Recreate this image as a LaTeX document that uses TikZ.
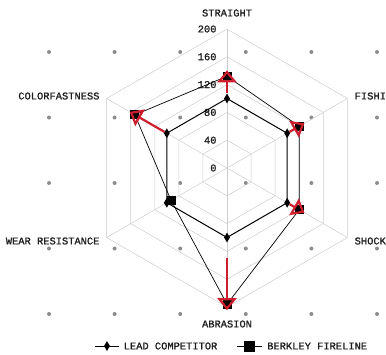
\documentclass[tikz,border=0pt]{standalone}
\usepackage{fontspec}
\setmainfont{Liberation Mono}[BoldFont=Liberation Mono,BoldFeatures={FakeBold=1.2}]
\definecolor{mygrey}{RGB}{205,205,205}
\definecolor{mydot}{RGB}{140,140,140}
\definecolor{myred}{RGB}{205,30,45}
\definecolor{mytext}{RGB}{30,30,30}
\usetikzlibrary{shapes,arrows.meta,positioning}

\begin{document}
\begin{tikzpicture}[x=1pt,y=1pt,
    every node/.style={font=\fontsize{10.4}{12}\selectfont\bfseries,text=mytext},
    gridline/.style={draw=mygrey,line width=0.5pt},
    lcnode/.style={diamond,fill=black,inner sep=0pt,minimum width=6pt,minimum height=10pt},
    bfnode/.style={rectangle,fill=black,inner sep=0pt,minimum size=9pt},
    lcline/.style={line width=1pt},
    bfline/.style={line width=0.7pt},
    improve/.style={draw=myred,line width=2.2pt,shorten >=-6pt,
      -{Triangle[open,length=12pt,width=19pt]}}
    ]
    \useasboundingbox (0,0) rectangle (386,-354);

    % background dots
    \foreach \i in {0,...,5}
      \foreach \j in {0,...,4}
        \fill[mydot] (49+65.6*\i,-52-65.5*\j) circle (2pt);

    \begin{scope}[shift={(227,-168)}]
    % the web
    \foreach \r in {40,80,...,200}
      \draw[gridline] ({90}:{\r*0.695}) -- ({30}:{\r*0.695}) -- ({-30}:{\r*0.695})
        -- ({-90}:{\r*0.695}) -- ({210}:{\r*0.695}) -- ({150}:{\r*0.695}) -- cycle;
    \foreach \a in {90,30,...,-210}
      \draw[gridline] (0,0) -- ({\a}:139);
    \foreach \r in {0,40,...,200}
      \node[anchor=east,xshift=-7pt] (s\r) at ({90}:{\r*0.695}) {\r};

    % axis labels
    \node (straight) at (90:155) {STRAIGHT};
    \node (abrasion) at (-90:156) {ABRASION};
    \node[anchor=east] (colorfast) at (-124,72) {COLORFASTNESS};
    \node[anchor=west,inner xsep=0pt] (fishing) at (127.5,72) {FISHI};
    \node[anchor=east] (wear) at (-124,-73) {WEAR RESISTANCE};
    \node[anchor=west,inner xsep=0pt] (shock) at (127.5,-73) {SHOCK};

    % lead competitor
    \node[lcnode] (ls) at (90:69.5) {};
    \node[lcnode] (lf) at (30:69.5) {};
    \node[lcnode] (lsh) at (-30:69.5) {};
    \node[lcnode] (la) at (-90:69.5) {};
    \node[lcnode] (lw) at (210:69.5) {};
    \node[lcnode] (lc) at (150:69.5) {};

    % berkley fireline
    \node[bfnode] (bs) at ({90}:{132*0.695}) {};
    \node[bfnode] (bf) at ({30}:{120*0.695}) {};
    \node[bfnode] (bsh) at ({-30}:{120*0.695}) {};
    \node[bfnode] (ba) at ({-90}:{196*0.695}) {};
    \node[bfnode] (bw) at ({210}:{93*0.695}) {};
    \node[bfnode] (bc) at ({150}:{153*0.695}) {};

    % the edges
    \draw[lcline] (ls.center) -- (lf.center) -- (lsh.center) -- (la.center)
      -- (lw.center) -- (lc.center) -- cycle;
    \draw[bfline] (bs.center) -- (bf.center) -- (bsh.center) -- (ba.center)
      -- (bw.center) -- (bc.center) -- cycle;

    % red arrows
    \draw[improve] (ls) -- (bs.center);
    \draw[improve] (lf) -- (bf.center);
    \draw[improve] (lsh) -- (bsh.center);
    \draw[improve,shorten <=15pt] (la) -- (ba.center);
    \draw[improve] (lc) -- (bc.center);
    \end{scope}

    % legend
    \node[lcnode] (lk) at (107,-346) {};
    \coordinate (lk1) at (95,-346);
    \coordinate (lk2) at (119,-346);
    \node (lt) [right=10pt of lk] {LEAD COMPETITOR};
    \node[bfnode,minimum size=11pt] (bk) at (249,-346) {};
    \coordinate (bk1) at (237,-346);
    \coordinate (bk2) at (262,-346);
    \node (bt) [right=9pt of bk] {BERKLEY FIRELINE};
    \draw[lcline] (lk1) -- (lk2);
    \draw[bfline] (bk1) -- (bk2);
\end{tikzpicture}
\end{document}
